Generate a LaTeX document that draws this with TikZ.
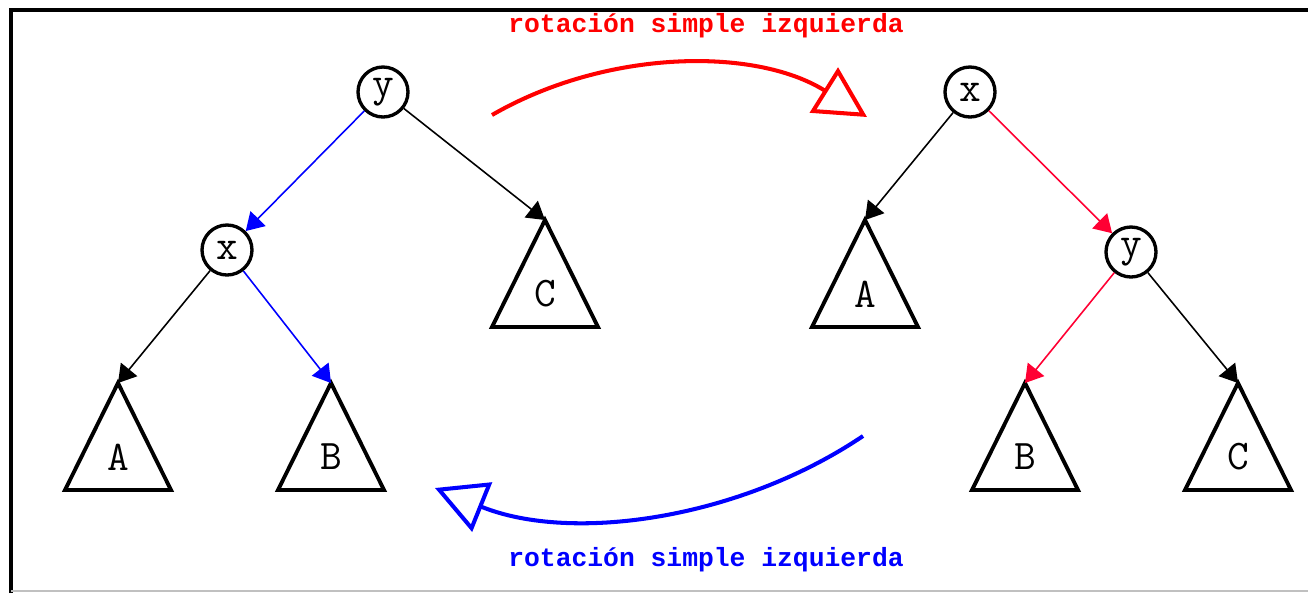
\documentclass[tikz,border=0pt]{standalone}
\usepackage{fontspec}
\newfontfamily\rotfont{Liberation Mono}
\usepackage{xcolor}
\usepackage{tikz}
\usetikzlibrary{arrows.meta,positioning}
\definecolor{cRed}{HTML}{FF0000}
\definecolor{cBlue}{HTML}{0000FF}
\definecolor{cRose}{HTML}{FF0033}
\definecolor{cFrame}{HTML}{000000}
\definecolor{cRule}{HTML}{C0C0C0}
\tikzset{
  knode/.style={circle,draw=black,line width=1.9pt,minimum size=1cm,inner sep=0pt,font=\ttfamily\fontsize{24}{24}\selectfont},
  subtxt/.style={inner sep=0pt,font=\ttfamily\fontsize{24}{24}\selectfont},
  tri/.style={draw=black,line width=2.2pt,line join=miter},
  edge/.style={-{Triangle[length=10pt,width=12pt]},line width=0.9pt,color=#1},
  edge/.default=black,
  rot/.style={-{Triangle[open,length=29pt,width=30pt]},line width=2.3pt,color=#1},
  lbl/.style={inner sep=0pt,font=\rotfont\bfseries\fontsize{15}{15}\selectfont,text=#1},
}

\begin{document}
\begin{tikzpicture}[x=0.02cm,y=0.02cm]
  \useasboundingbox (0,0) rectangle (1308,-593);
  % frame
  \draw[cFrame,line width=2.2pt] (11,-593) -- (11,-10) -- (1308,-10);
  \draw[cRule,line width=0.8pt] (11,-591) -- (1308,-591);

  % left tree
  \node[knode] (ly) at (383,-92) {y};
  \node[knode] (lx) at (227,-250) {x};
  % right tree
  \node[knode] (rx) at (970,-92) {x};
  \node[knode] (ry) at (1131,-252) {y};

  % subtrees: apex coordinate, triangle, letter
  \foreach \n/\x/\y/\t in {lA/118/-383/A, lB/331/-383/B, lC/545/-220/C,
                           rA/865/-220/A, rB/1025/-383/B, rC/1238/-383/C}{
    \coordinate (\n) at (\x,\y);
    \draw[tri] (\n) -- ++(-53,-107) -- ++(106,0) -- cycle;
    \node[subtxt] (\n-t) at ([yshift=-1.48cm]\n) {\t};
  }

  \draw[edge=cBlue] (ly) -- (lx);
  \draw[edge] (ly) -- (lC);
  \draw[edge] (lx) -- (lA);
  \draw[edge=cBlue] (lx) -- (lB);
  \draw[edge] (rx) -- (rA);
  \draw[edge=cRose] (rx) -- (ry);
  \draw[edge=cRose] (ry) -- (rB);
  \draw[edge] (ry) -- (rC);

  % rotations
  \coordinate (topS) at (492,-115);
  \coordinate (topE) at (867,-117);
  \coordinate (botS) at (863,-436);
  \coordinate (botE) at (435,-488);
  \draw[rot=cRed] (topS) to[out=30,in=148,looseness=0.9] (topE);
  \draw[rot=cBlue] (botS) to[out=-146,in=-22,looseness=0.88] (botE);
  \node[lbl=cRed] (topL) at (706,-26) {rotación simple izquierda};
  \node[lbl=cBlue] (botL) at (706,-560) {rotación simple izquierda};
\end{tikzpicture}
\end{document}
